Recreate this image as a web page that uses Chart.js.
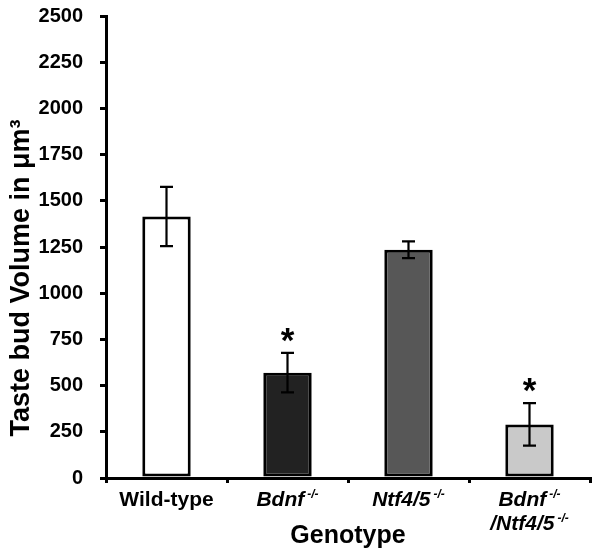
<!DOCTYPE html>
<html>
<head>
<meta charset="utf-8">
<script src="https://cdn.jsdelivr.net/npm/chart.js@4/dist/chart.umd.min.js"></script>
<style>
  html, body { margin: 0; padding: 0; background: #fff; }
  #chart { display: block; }
</style>
</head>
<body>
<canvas id="chart" width="600" height="558"></canvas>
<script>
// taste bud volume by genotype (mean +/- SEM)
const categories = ["Wild-type", "Bdnf-/-", "Ntf4/5-/-", "Bdnf-/-/Ntf4/5-/-"];
// label lines as [text, superscript] pairs
const labelLines = [
    [["Wild-type", ""]],
    [["Bdnf", "-/-"]],
    [["Ntf4/5", "-/-"]],
    [["Bdnf", "-/-"], ["/Ntf4/5", "-/-"]]
];
const italicLabel = [false, true, true, true];
const volumes = [1415, 570, 1235, 290];
const errors = [160, 107, 45, 115];
const significant = [false, true, false, true];
const barColors = ["#ffffff", "#222222", "#575757", "#c9c9c9"];
const yTicks = [0, 250, 500, 750, 1000, 1250, 1500, 1750, 2000, 2250, 2500];

const FONT = "'Liberation Sans', Arial, sans-serif";

const extras = {
    id: "extras",
    afterDatasetsDraw(chart) {
        const ctx = chart.ctx;
        const y = chart.scales.y;
        const meta = chart.getDatasetMeta(0);
        ctx.save();
        ctx.strokeStyle = "#000";
        ctx.fillStyle = "#000";
        ctx.lineWidth = 2.2;
        meta.data.forEach((bar, i) => {
            const top = y.getPixelForValue(volumes[i] + errors[i]);
            const bot = y.getPixelForValue(volumes[i] - errors[i]);
            ctx.beginPath();
            ctx.moveTo(bar.x, top);
            ctx.lineTo(bar.x, bot);
            ctx.moveTo(bar.x - 6.5, top);
            ctx.lineTo(bar.x + 6.5, top);
            ctx.moveTo(bar.x - 6.5, bot);
            ctx.lineTo(bar.x + 6.5, bot);
            ctx.stroke();
            if (significant[i]) {
                ctx.font = "bold 35px " + FONT;
                ctx.textAlign = "center";
                ctx.textBaseline = "alphabetic";
                ctx.fillText("*", bar.x, top - 1);
            }
        });
        ctx.restore();
    },
    afterDraw(chart) {
        const ctx = chart.ctx;
        const x = chart.scales.x;
        const area = chart.chartArea;
        ctx.save();
        ctx.fillStyle = "#000";
        ctx.textBaseline = "alphabetic";
        ctx.textAlign = "left";
        // category labels
        labelLines.forEach((lines, i) => {
            const cx = x.getPixelForValue(i);
            const style = italicLabel[i] ? "italic " : "";
            lines.forEach((seg, j) => {
                const mainFont = style + "bold 21px " + FONT;
                const supFont = style + "bold 12px " + FONT;
                ctx.font = mainFont;
                const w1 = ctx.measureText(seg[0]).width;
                ctx.font = supFont;
                const gap = seg[1] ? 3 : 0;
                const w2 = seg[1] ? ctx.measureText(seg[1]).width : 0;
                const left = cx - (w1 + gap + w2) / 2;
                const base = area.bottom + 28 + j * 24;
                ctx.font = mainFont;
                ctx.fillText(seg[0], left, base);
                if (seg[1]) {
                    ctx.font = supFont;
                    ctx.fillText(seg[1], left + w1 + gap, base - 8);
                }
            });
        });
        // x title
        ctx.font = "bold 25px " + FONT;
        ctx.textAlign = "center";
        ctx.fillText("Genotype", (area.left + area.right) / 2, 543);
        // y title
        ctx.translate(29, 278);
        ctx.rotate(-Math.PI / 2);
        ctx.font = "bold 27px " + FONT;
        ctx.fillText("Taste bud Volume in \u03bcm\u00b3", 0, 0);
        ctx.restore();
    }
};

new Chart(document.getElementById("chart"), {
    type: "bar",
    data: {
        labels: categories,
        datasets: [{
            data: volumes,
            backgroundColor: barColors,
            borderColor: "#000",
            borderWidth: 3,
            borderSkipped: false,
            categoryPercentage: 1,
            barPercentage: 0.4
        }]
    },
    options: {
        responsive: false,
        animation: false,
        events: [],
        layout: { padding: { top: 16, right: 10, left: 0, bottom: 0 } },
        plugins: {
            legend: { display: false },
            tooltip: { enabled: false }
        },
        scales: {
            x: {
                afterFit: s => { s.height = 80; s.paddingLeft = 0; s.paddingRight = 0; },
                border: { color: "#000", width: 3 },
                grid: {
                    offset: true,
                    drawOnChartArea: false,
                    drawTicks: true,
                    tickLength: 5,
                    color: "#000",
                    lineWidth: 3
                },
                ticks: { display: false }
            },
            y: {
                min: 0,
                max: 2500,
                afterFit: s => { s.width = 106; s.paddingTop = 0; s.paddingBottom = 0; },
                afterBuildTicks: s => { s.ticks = yTicks.map(v => ({ value: v })); },
                border: { color: "#000", width: 3 },
                grid: {
                    drawOnChartArea: false,
                    drawTicks: true,
                    tickLength: 6,
                    color: "#000",
                    lineWidth: 3
                },
                ticks: {
                    padding: 17,
                    color: "#000",
                    font: { family: FONT, weight: "bold", size: 20 },
                    callback: v => String(v)
                }
            }
        }
    },
    plugins: [extras]
});
</script>
</body>
</html>
